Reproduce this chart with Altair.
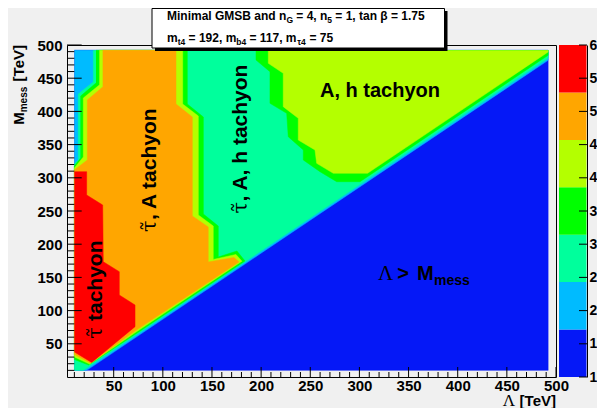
import altair as alt
import pandas as pd

# ---------------- data ----------------
# contour levels of the colour scale (7 colours between 1 and 6)
LEVEL_EDGES = [1.0, 1.714, 2.429, 3.143, 3.857, 4.571, 5.286, 6.0]
PALETTE = ["#0518f7", "#00bbff", "#00ff9c", "#00ff00", "#b4ff00", "#ffa600", "#ff0000"]
CB_TICKS = [1, 1.5, 2, 2.5, 3, 3.5, 4, 4.5, 5, 5.5, 6]

# regions where value >= level (Lambda [TeV], M_mess [TeV])
BASE_L = [10, 492, 492, 10]
BASE_M = [10, 10, 492, 492]
S1_L = [10, 22.5, 492, 492, 10]
S1_M = [10, 10, 477, 492, 492]
S2_L = [29.3, 29.3, 14, 14, 10, 10, 19.3, 492, 492]
S2_M = [492, 444.3, 426.2, 326.8, 320.8, 10, 10, 480.2, 492]
S3A_L = [32, 124.9, 124.9, 141.2, 141.2, 156.4, 156.4, 175.4, 183.6, 72, 24.5, 10, 10, 16.4, 16.4, 32]
S3A_M = [492, 492, 411.1, 391.6, 245.5, 227.4, 180.7, 189.8, 174.7, 64.3, 18, 26.4, 317.8, 329.8, 423.2, 442.8]
S3B_L = [194.8, 194.8, 209, 209, 226, 227.6, 242.9, 242.9, 259.9, 276.9, 300.6, 492, 492]
S3B_M = [492, 477.4, 459.8, 412.2, 397.1, 361.9, 341.9, 326.8, 309.2, 294.1, 294.1, 484.5, 492]
S4A_L = [35.4, 120.2, 120.2, 136.1, 136.1, 151.3, 151.3, 174.4, 180.5, 72, 25.5, 10, 10, 19.1, 19.1, 35.4]
S4A_M = [492, 492, 411.1, 393.1, 244, 227.4, 177, 184.5, 174.4, 66.9, 19.5, 30.1, 314.8, 331.3, 420.2, 439.8]
S4B_L = [207.3, 207.3, 222.5, 222.5, 237.8, 237.8, 254.8, 256.5, 273.4, 308.3, 492, 492]
S4B_M = [492, 472.4, 457.4, 407.1, 389.6, 356.9, 341.9, 321.8, 306.8, 306.8, 489.5, 492]
S5_L = [38.8, 113.4, 113.4, 130, 130, 146.2, 146.2, 172.4, 177.5, 72, 26.5, 10, 10, 23.2, 23.2, 38.8]
S5_M = [492, 492, 411.1, 391.6, 242.5, 225.9, 173.2, 180, 173.3, 69.7, 20.8, 33.9, 311.7, 326.8, 417.2, 436.7]
S6_L = [10, 22.5, 22.5, 38.8, 39.4, 55.7, 55.7, 71.7, 71.7, 27.6, 10]
S6_M = [309.2, 309.2, 274.1, 259, 173.6, 158.6, 123.5, 108.4, 75.8, 22, 37.7]

POLYS = [
    ("base", 0, BASE_L, BASE_M),
    ("s1", 1, S1_L, S1_M),
    ("s2", 2, S2_L, S2_M),
    ("s3a", 3, S3A_L, S3A_M),
    ("s3b", 3, S3B_L, S3B_M),
    ("s4a", 4, S4A_L, S4A_M),
    ("s4b", 4, S4B_L, S4B_M),
    ("s5", 5, S5_L, S5_M),
    ("s6", 6, S6_L, S6_M),
]

X_MAJOR = list(range(50, 501, 50))
X_MINOR = [v for v in range(10, 500, 10) if v % 50]
Y_MAJOR = list(range(50, 501, 50))
Y_MINOR = [v for v in range(10, 500, 10) if v % 50]

W, H = 489, 332
OX, OY = 67, 45  # page position of plot origin
FONT = "Liberation Sans"

rows = []
for name, lev, ls, ms in POLYS:
    for i, (l, m) in enumerate(zip(ls, ms)):
        rows.append({"poly": name, "lev": lev, "idx": i, "L": l, "M": m})
poly_df = pd.DataFrame(rows)

x_axis = alt.Axis(values=X_MAJOR, title=None, ticks=False, tickSize=0, domain=False, grid=False,
                  labelFont=FONT, labelFontWeight="bold", labelFontSize=15, labelColor="black",
                  labelPadding=1, labelFlush=False, labelOverlap=False)
y_axis = alt.Axis(values=Y_MAJOR, title=None, ticks=False, tickSize=0, domain=False, grid=False,
                  labelFont=FONT, labelFontWeight="bold", labelFontSize=15, labelColor="black",
                  labelPadding=5, labelFlush=False, labelOverlap=False)
X = alt.X("L:Q", scale=alt.Scale(domain=[2.5, 500], nice=False, zero=False), axis=x_axis)
Y = alt.Y("M:Q", scale=alt.Scale(domain=[0, 500], nice=False, zero=False), axis=y_axis)

layers = []
for name, lev, ls, ms in POLYS:
    col = PALETTE[lev]
    layers.append(
        alt.Chart(poly_df).transform_filter(alt.datum.poly == name)
        .mark_line(fill=col, stroke=col, strokeWidth=0.5, interpolate="linear")
        .encode(x=X, y=Y, order=alt.Order("idx:Q"))
    )

# inward ticks
layers.append(alt.Chart(pd.DataFrame({"L": X_MAJOR})).mark_rule(color="black", strokeWidth=1)
              .encode(x=X, y=alt.value(H), y2=alt.value(H - 10)))
layers.append(alt.Chart(pd.DataFrame({"L": X_MINOR})).mark_rule(color="black", strokeWidth=1)
              .encode(x=X, y=alt.value(H), y2=alt.value(H - 5)))
layers.append(alt.Chart(pd.DataFrame({"M": Y_MAJOR})).mark_rule(color="black", strokeWidth=1)
              .encode(y=Y, x=alt.value(0), x2=alt.value(14.7)))
layers.append(alt.Chart(pd.DataFrame({"M": Y_MINOR})).mark_rule(color="black", strokeWidth=1)
              .encode(y=Y, x=alt.value(0), x2=alt.value(7.3)))

one = pd.DataFrame({"a": [0]})


def txt(s, x, y, size, font=FONT, weight="bold", align="left", angle=0, baseline="alphabetic"):
    return alt.Chart(one).mark_text(text=s, font=font, fontSize=size, fontWeight=weight, align=align,
                                    baseline=baseline, angle=angle, color="black").encode(
        x=alt.value(x - OX), y=alt.value(y - OY))


# region labels
layers.append(txt("A, h tachyon", 380, 97, 20, align="center"))
layers.append(txt("τ̃", 156, 232, 21, font="DejaVu Serif", weight="normal", angle=270))
layers.append(txt(", A tachyon", 156, 220, 21, angle=270))
layers.append(txt("τ̃", 247, 213.5, 21, font="DejaVu Serif", weight="normal", angle=270))
layers.append(txt(", A, h tachyon", 247, 201.5, 21, angle=270))
layers.append(txt("τ̃", 102, 338.7, 21, font="DejaVu Serif", weight="normal", angle=270))
layers.append(txt("tachyon", 102, 321, 21, angle=270))
layers.append(txt("Λ", 378, 280, 21, font="Liberation Serif", weight="normal"))
layers.append(txt(">", 403, 280, 20, align="center"))
layers.append(txt("M", 417, 280, 20))
layers.append(txt("mess", 434, 285, 14))

# axis titles
layers.append(txt("[TeV]", 556, 406, 15, align="right"))
layers.append(txt("Λ", 515, 406, 17, font="Liberation Serif", weight="normal", align="right"))
layers.append(txt("[TeV]", 24, 45, 15, align="right", angle=270))
layers.append(txt("mess", 27, 86.7, 10, align="right", angle=270))
layers.append(txt("M", 24, 112.3, 15, align="right", angle=270))

# title box with shadow
layers.append(alt.Chart(one).mark_rect(color="black").encode(
    x=alt.value(155 - OX), x2=alt.value(447.5 - OX), y=alt.value(11 - OY), y2=alt.value(51 - OY)))
layers.append(alt.Chart(one).mark_rect(fill="white", stroke="black", strokeWidth=1).encode(
    x=alt.value(152 - OX), x2=alt.value(444.5 - OX), y=alt.value(8.5 - OY), y2=alt.value(48 - OY)))
for s, x, y, size in [
    ("Minimal GMSB and n", 167, 19.5, 12), ("G", 286.4, 22.5, 8.5), ("= 4, n", 296.3, 19.5, 12),
    ("5", 327.3, 22.5, 8.5), ("= 1, tan β = 1.75", 335.3, 19.5, 12),
    ("m", 167, 41.5, 12), ("t4", 177.7, 44.5, 8.5), ("= 192, m", 188.6, 41.5, 12),
    ("b4", 236.3, 44.5, 8.5), ("= 117, m", 249.5, 41.5, 12), ("τ4", 297.2, 44.5, 8.5),
    ("= 75", 309.5, 41.5, 12),
]:
    layers.append(txt(s, x, y, size))

main = alt.layer(*layers)

# colour bar
cb_scale = alt.Scale(domain=[1, 6], nice=False, zero=False)
cb_axis = alt.Axis(orient="right", offset=31, values=CB_TICKS, format="~g", title=None, ticks=False,
                   tickSize=0, domain=True, domainColor="black", domainWidth=1, grid=False,
                   labelFont=FONT, labelFontWeight="bold", labelFontSize=14, labelColor="black",
                   labelPadding=2, labelFlush=False, labelOverlap=False)
cb_df = pd.DataFrame({"v": LEVEL_EDGES[:-1], "v2": LEVEL_EDGES[1:], "c": PALETTE})
cb_rect = alt.Chart(cb_df).mark_rect().encode(
    y=alt.Y("v:Q", scale=cb_scale, axis=cb_axis), y2="v2:Q",
    x=alt.value(492), x2=alt.value(519.5), color=alt.Color("c:N", scale=None))
cb_ticks = alt.Chart(pd.DataFrame({"v": CB_TICKS})).mark_rule(color="black", strokeWidth=1).encode(
    y=alt.Y("v:Q", scale=cb_scale, axis=cb_axis), x=alt.value(512), x2=alt.value(520))
cbar = alt.layer(cb_rect, cb_ticks)

chart = (
    alt.layer(main, cbar)
    .resolve_scale(y="independent")
    .properties(width=W, height=H, autosize=alt.AutoSizeParams(type="none"),
                padding={"left": 59, "top": 37, "right": 41, "bottom": 31},
                background="#f0f0f0")
    .configure_view(stroke="black", strokeWidth=1, fill="#f0f0f0")
)

chart.save("out.html", embed_options={"renderer": "svg", "actions": False})
